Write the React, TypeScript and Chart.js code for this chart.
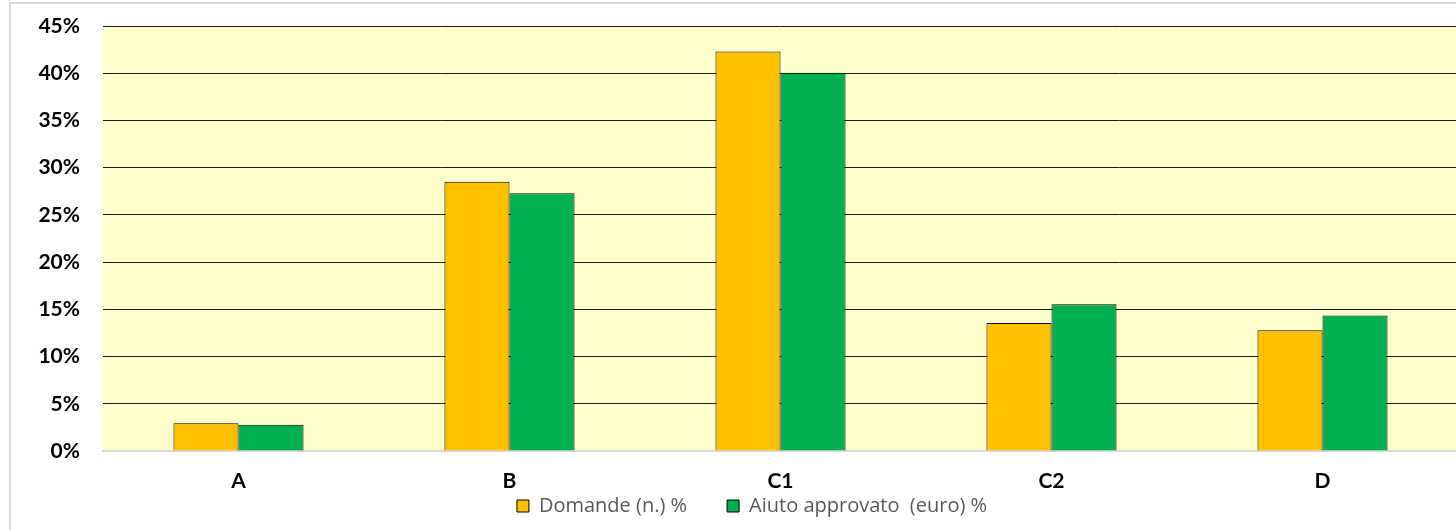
import React, { useEffect, useRef } from "react";
import { Chart, registerables } from "chart.js";

Chart.register(...registerables);

const categories = ["A", "B", "C1", "C2", "D"];
const domande = [2.93, 28.5, 42.3, 13.55, 12.78];
const aiuto = [2.79, 27.3, 40.05, 15.55, 14.35];
const seriesNames = ["Domande (n.) %", "Aiuto approvato  (euro) %"];
const yTicks = [0, 5, 10, 15, 20, 25, 30, 35, 40, 45];

const plotBg = {
  id: "plotBg",
  beforeDraw(chart: any) {
    const { ctx, chartArea } = chart;
    ctx.save();
    ctx.fillStyle = "#FFFFCC";
    ctx.fillRect(chartArea.left, chartArea.top, chartArea.right - chartArea.left, chartArea.bottom - chartArea.top);
    ctx.restore();
  },
};

const noLabelClip = (scale: any) => {
  scale._computeLabelArea = () => undefined;
};

export default function App() {
  const ref = useRef<HTMLCanvasElement | null>(null);
  useEffect(() => {
    if (!ref.current) return;
    const chart = new Chart(ref.current, {
      type: "bar",
      data: {
        labels: categories,
        datasets: [
          {
            label: seriesNames[0],
            data: domande,
            backgroundColor: "#FFC000",
            borderColor: "#000000",
            borderWidth: 1,
            categoryPercentage: 0.48,
            barPercentage: 1,
          },
          {
            label: seriesNames[1],
            data: aiuto,
            backgroundColor: "#00B050",
            borderColor: "#000000",
            borderWidth: 1,
            categoryPercentage: 0.48,
            barPercentage: 1,
          },
        ],
      },
      options: {
        responsive: false,
        animation: false,
        layout: { padding: { left: 35, right: 43, top: 22, bottom: 0 } },
        plugins: {
          tooltip: { enabled: false },
          legend: {
            position: "bottom",
            labels: {
              boxWidth: 12,
              boxHeight: 12,
              padding: 40,
              color: "#595959",
              font: { family: "Open Sans", size: 20 },
            },
          },
        },
        scales: {
          x: {
            grid: { display: false },
            border: { display: true, color: "#D9D9D9", width: 2 },
            ticks: {
              color: "#000000",
              padding: 10,
              font: { family: "Lato", size: 21, weight: "bold" },
            },
            afterFit(scale: any) {
              scale.height = 5;
              noLabelClip(scale);
            },
          },
          y: {
            min: 0,
            max: 45,
            afterBuildTicks(scale: any) {
              scale.ticks = yTicks.map((v) => ({ value: v }));
            },
            grid: {
              drawTicks: false,
              color: (c: any) => (c.tick && c.tick.value === 0 ? "rgba(0,0,0,0)" : "#1A1A1A"),
              lineWidth: 1,
            },
            border: { display: false },
            ticks: {
              color: "#000000",
              padding: 23,
              font: { family: "Lato", size: 21, weight: "bold" },
              callback: (v: any) => v + "%",
            },
            afterFit(scale: any) {
              scale.width = 57;
              scale.paddingTop = 0;
              scale.paddingBottom = 0;
              noLabelClip(scale);
            },
          },
        },
      },
      plugins: [plotBg],
    } as any);
    return () => chart.destroy();
  }, []);

  return (
    <div
      style={{
        position: "fixed",
        left: 9,
        top: 2,
        width: 1495,
        height: 560,
        borderLeft: "2px solid #D9D9D9",
        borderTop: "2px solid #D9D9D9",
        background: "#FFFFFF",
      }}
    >
      <canvas ref={ref} width={1490} height={522} style={{ display: "block" }} />
    </div>
  );
}
